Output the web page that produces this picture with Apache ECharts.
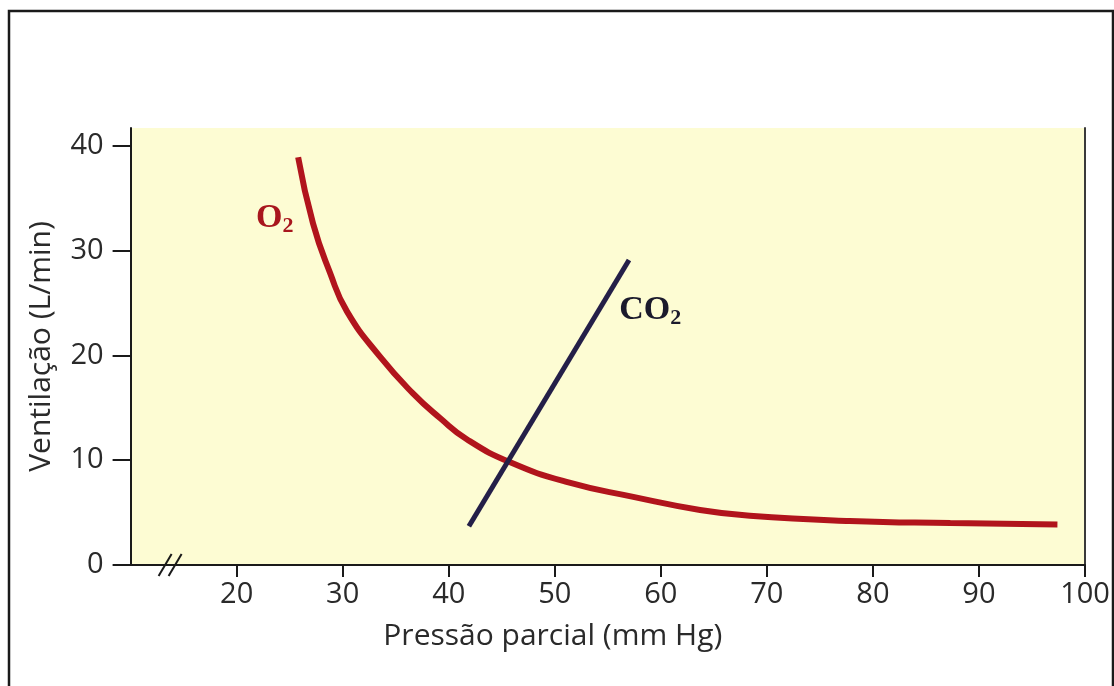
<!DOCTYPE html>
<html>
<head>
<meta charset="utf-8">
<script src="https://cdn.jsdelivr.net/npm/echarts@6/dist/echarts.min.js"></script>
<style>
  html, body { margin: 0; padding: 0; background: #ffffff; }
  #chart { width: 1114px; height: 686px; }
</style>
</head>
<body>
<div id="chart"></div>
<script>
// Ventilation response curves: O2 (hyperbolic fall) and CO2 (linear rise)
const o2Pressure = [25.8, 27.2, 28.8, 30.4, 33.5, 36.6, 39.2, 41.7, 45.8, 51.2, 57.4, 63.7, 68.4, 77.8, 87.3, 97.4];
const o2Ventilation = [38.9, 32.6, 27.9, 24.2, 19.9, 16.4, 14.0, 12.0, 9.8, 7.9, 6.5, 5.25, 4.7, 4.2, 4.0, 3.87];
const co2Pressure = [41.9, 57.0];
const co2Ventilation = [3.7, 29.1];

const xTicks = [20, 30, 40, 50, 60, 70, 80, 90, 100];
const yTicks = [0, 10, 20, 30, 40];

const o2Label = { name: 'O2', at: [23.6, 33.1] };
const co2Label = { name: 'CO2', at: [59.0, 24.3] };

const o2Color = '#b1141c';
const co2Color = '#241f48';
const sansFont = '"Open Sans", sans-serif';
const serifFont = '"Liberation Serif", serif';

const chart = echarts.init(document.getElementById('chart'));

function pairs(xs, ys) {
  return xs.map((x, i) => [x, ys[i]]);
}

function chemLabel(main, color) {
  return {
    show: true, position: 'inside', formatter: '{o|' + main + '}{s|2}',
    rich: {
      o: { fontFamily: serifFont, fontWeight: 'bold', fontSize: 34, lineHeight: 38, color: color, verticalAlign: 'middle' },
      s: { fontFamily: serifFont, fontWeight: 'bold', fontSize: 22, lineHeight: 14, color: color, verticalAlign: 'bottom' }
    }
  };
}

const option = {
  animation: false,
  backgroundColor: '#ffffff',
  grid: {
    left: 130.6, right: 29, top: 128, bottom: 121,
    show: true, backgroundColor: '#fdfcd3', borderWidth: 0,
    outerBoundsMode: 'none'
  },
  xAxis: {
    type: 'value', min: 10, max: 100, interval: 10,
    name: 'Pressão parcial (mm Hg)', nameLocation: 'middle', nameGap: 56,
    nameTextStyle: { fontFamily: sansFont, fontSize: 30, color: '#2a2a2a', padding: [0, 110, 0, 0] },
    axisLine: { show: true, onZero: false, lineStyle: { color: '#1a1a1a', width: 2 } },
    axisTick: { show: true, length: 12, customValues: xTicks, lineStyle: { color: '#1a1a1a', width: 2 } },
    axisLabel: { customValues: xTicks, margin: 15, fontFamily: sansFont, fontSize: 29, color: '#2a2a2a' },
    splitLine: { show: false }
  },
  yAxis: [{
    type: 'value', min: 0, max: 41.7, interval: 10,
    name: 'Ventilação (L/min)', nameLocation: 'middle', nameGap: 74, nameRotate: 90,
    nameTextStyle: { fontFamily: sansFont, fontSize: 30, color: '#2a2a2a' },
    axisLine: { show: true, onZero: false, lineStyle: { color: '#1a1a1a', width: 2 } },
    axisTick: { show: true, length: 18, customValues: yTicks, lineStyle: { color: '#1a1a1a', width: 2 } },
    axisLabel: { customValues: yTicks, margin: 27, fontFamily: sansFont, fontSize: 29, color: '#2a2a2a' },
    splitLine: { show: false }
  }, {
    type: 'value', min: 0, max: 41.7, position: 'right',
    axisLine: { show: true, onZero: false, lineStyle: { color: '#3a3a3a', width: 2 } },
    axisTick: { show: false }, axisLabel: { show: false }, splitLine: { show: false }
  }],
  series: [
    {
      name: 'O2', type: 'line', data: pairs(o2Pressure, o2Ventilation),
      smooth: 0.5, showSymbol: false, silent: true,
      lineStyle: { color: o2Color, width: 6 }
    },
    {
      name: 'CO2', type: 'line', data: pairs(co2Pressure, co2Ventilation),
      showSymbol: false, silent: true,
      lineStyle: { color: co2Color, width: 5 }
    },
    {
      type: 'scatter', symbolSize: 0, silent: true,
      itemStyle: { opacity: 1 },
      data: [o2Label.at],
      label: chemLabel('O', '#a8161d')
    },
    {
      type: 'scatter', symbolSize: 0, silent: true,
      itemStyle: { opacity: 1 },
      data: [co2Label.at],
      label: chemLabel('CO', '#1b1a2c')
    }
  ]
};

chart.setOption(option);

// Outer frame and the axis-break marks on the x axis
const p0 = chart.convertToPixel({ gridIndex: 0 }, [10, 0]);
const breakX = p0[0] + 28;
const breakY = p0[1];
chart.setOption({
  graphic: [
    {
      type: 'rect', silent: true, z: 100,
      shape: { x: 9, y: 11, width: 1104, height: 700 },
      style: { fill: 'none', stroke: '#1a1a1a', lineWidth: 2.5 }
    },
    {
      type: 'line', silent: true, z: 100,
      shape: { x1: breakX, y1: breakY + 11, x2: breakX + 13, y2: breakY - 11 },
      style: { stroke: '#1a1a1a', lineWidth: 2 }
    },
    {
      type: 'line', silent: true, z: 100,
      shape: { x1: breakX + 10, y1: breakY + 11, x2: breakX + 23, y2: breakY - 11 },
      style: { stroke: '#1a1a1a', lineWidth: 2 }
    }
  ]
});
</script>
</body>
</html>
